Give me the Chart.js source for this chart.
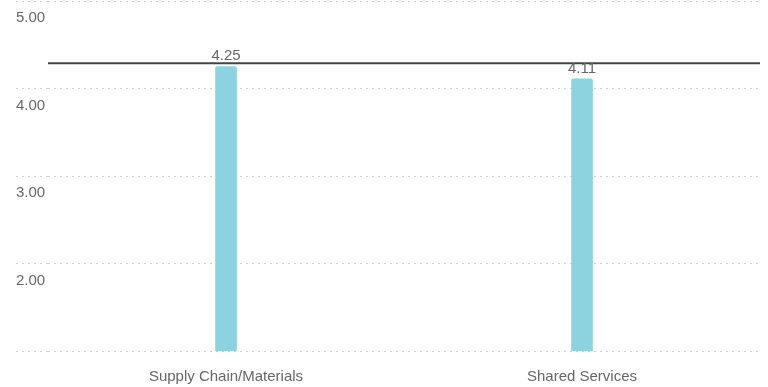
<!DOCTYPE html>
<html>
<head>
<meta charset="utf-8">
<script src="https://cdn.jsdelivr.net/npm/chart.js@4"></script>
<style>
  html, body { margin: 0; padding: 0; background: #fff; }
  #wrap { width: 768px; height: 387px; position: relative; }
</style>
</head>
<body>
<div id="wrap"><canvas id="chart"></canvas></div>
<script>
const categories = ["Supply Chain/Materials", "Shared Services"];
const scores = [4.25, 4.11];
const yTicks = [1, 2, 3, 4, 5];
const benchmark = [4.29];

const textColor = "#666";
const fontFamily = "'Liberation Sans', Arial, Helvetica, sans-serif";

// benchmark line across the plot, then the value labels on top
const overlay = {
  id: "overlay",
  afterDatasetsDraw(chart) {
    const { ctx, chartArea, scales } = chart;
    const y = scales.y.getPixelForValue(benchmark[0]);
    ctx.save();
    ctx.strokeStyle = "#444";
    ctx.lineWidth = 2;
    ctx.beginPath();
    ctx.moveTo(chartArea.left, y);
    ctx.lineTo(chartArea.right, y);
    ctx.stroke();

    ctx.fillStyle = textColor;
    ctx.font = "15px " + fontFamily;
    ctx.textAlign = "center";
    ctx.textBaseline = "bottom";
    chart.getDatasetMeta(0).data.forEach((bar, i) => {
      ctx.fillText(scores[i].toFixed(2), bar.x, bar.y - 3);
    });
    ctx.restore();
  }
};

new Chart(document.getElementById("chart"), {
  type: "bar",
  data: {
    labels: categories,
    datasets: [{
      data: scores,
      backgroundColor: "#8dd3df",
      borderRadius: 2,
      borderSkipped: "bottom",
      barThickness: 21
    }]
  },
  options: {
    responsive: true,
    maintainAspectRatio: false,
    animation: false,
    layout: { padding: { top: 1, right: 8, bottom: 0, left: 16 } },
    plugins: {
      legend: { display: false },
      tooltip: { enabled: false }
    },
    scales: {
      x: {
        afterFit(scale) { scale.height = 36; },
        grid: { display: false, drawTicks: false },
        border: { display: false },
        ticks: {
          color: textColor,
          padding: 17,
          font: { family: fontFamily, size: 15 }
        }
      },
      y: {
        min: yTicks[0],
        max: yTicks[yTicks.length - 1],
        afterFit(scale) {
          scale.width = 32;
          scale.paddingTop = 0;
          scale.paddingBottom = 0;
        },
        afterBuildTicks(scale) { scale.ticks = yTicks.map(v => ({ value: v })); },
        grid: {
          color: "#cfcfcf",
          tickColor: "#cfcfcf",
          tickLength: 32,
          tickBorderDash: [2, 4]
        },
        border: { display: false, dash: [2, 4] },
        ticks: {
          color: textColor,
          crossAlign: "far",
          labelOffset: 17,
          padding: 0,
          font: { family: fontFamily, size: 15 },
          callback: v => (v === yTicks[0] ? "" : Number(v).toFixed(2))
        }
      }
    }
  },
  plugins: [overlay]
});
</script>
</body>
</html>
